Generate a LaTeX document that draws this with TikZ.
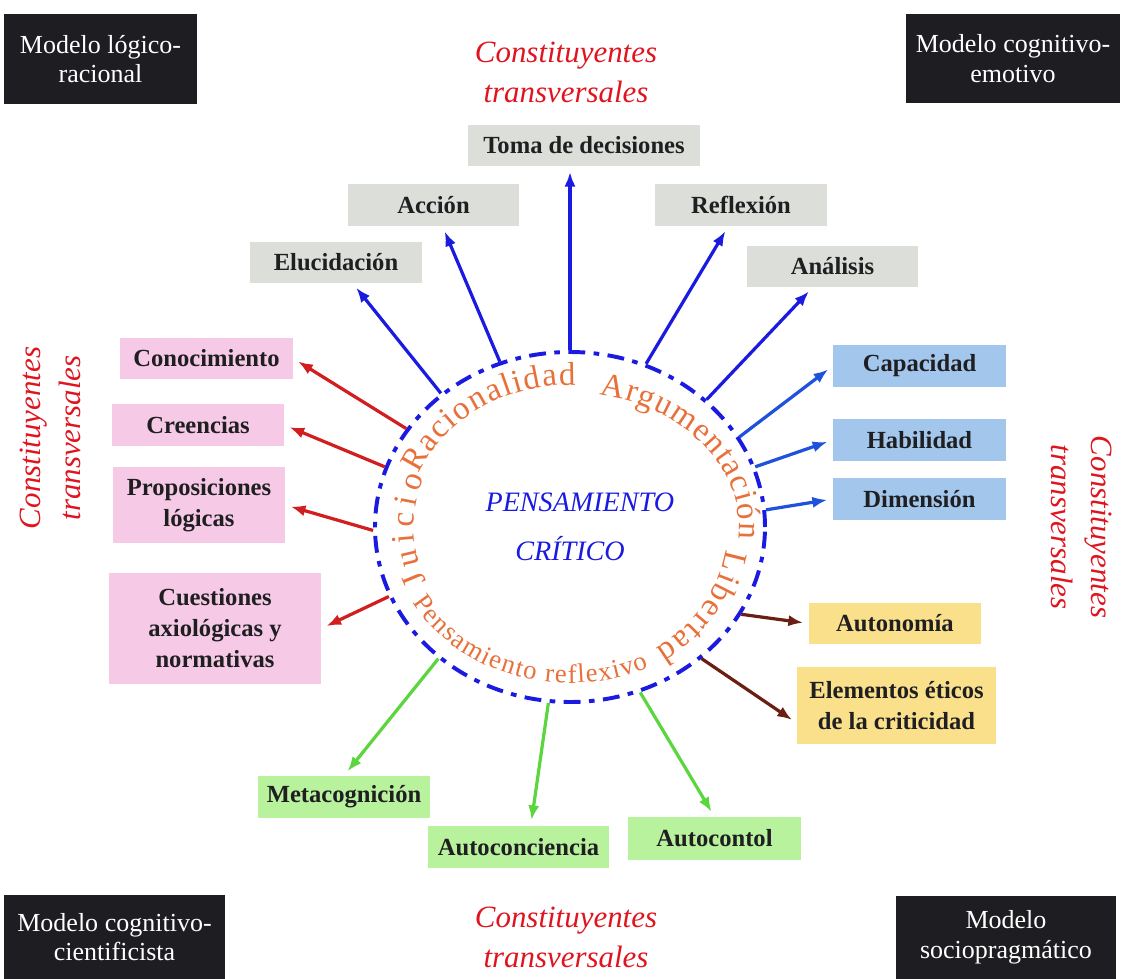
\documentclass[tikz,border=0pt]{standalone}
\usepackage{fontspec}
\setmainfont{Liberation Serif}
\usetikzlibrary{arrows.meta,positioning,shapes.geometric,decorations.text}
\definecolor{Ink}{HTML}{1E1E22}
\definecolor{Texto}{HTML}{1F1F22}
\definecolor{Gris}{HTML}{DCDFD9}
\definecolor{Rosa}{HTML}{F6CAE6}
\definecolor{Celeste}{HTML}{A3C6EC}
\definecolor{Amarillo}{HTML}{FBE08C}
\definecolor{Verde}{HTML}{B9F29C}
\definecolor{Rojo}{HTML}{E0141E}
\definecolor{Naranja}{HTML}{E8703A}
\definecolor{Azul}{HTML}{1A1AE0}
\definecolor{AzulClaro}{HTML}{1E52DC}
\definecolor{Flecha}{HTML}{D21E1E}
\definecolor{Cafe}{HTML}{6B1E12}
\definecolor{Lima}{HTML}{5CD63E}
\newcommand{\pxu}{0.025cm}
\newcommand{\letra}{\fontsize{23.5}{23.5}\selectfont}
\newcommand{\letrab}{\fontsize{19}{19}\selectfont}

\begin{document}
\begin{tikzpicture}[x=0.025cm, y=0.025cm,
    caja/.style n args={3}{fill=#1, minimum width=#2*\pxu, minimum height=#3*\pxu,
      inner sep=0pt, align=center, text=Texto, font=\fontsize{17.5}{22}\selectfont\bfseries},
    modelo/.style 2 args={fill=Ink, text=white, minimum width=#1*\pxu, minimum height=#2*\pxu,
      inner sep=0pt, align=center, font=\fontsize{18.5}{21}\selectfont},
    trans/.style={text=Rojo, align=center, font=\fontsize{22}{28.5}\selectfont\itshape},
    flecha/.style={line width=2.3pt, -{Latex[length=10.5pt,width=8pt]}, shorten >=4pt},
    palabra/.style={decorate, decoration={text along path, text align=fit to path,
      text color=Naranja, text={|\letra|#1}}}]

  \useasboundingbox (0,0) rectangle (1121,-979);

  % modelos en las esquinas
  \node[modelo={193}{90}] (logico) at (100.5,-59) {Modelo lógico-\\racional};
  \node[modelo={214}{89}] (emotivo) at (1013,-58.5) {Modelo cognitivo-\\emotivo};
  \node[modelo={221}{84}] (cientif) at (114.5,-937) {Modelo cognitivo-\\cientificista};
  \node[modelo={220}{83}] (socio) at (1006,-937.5) {Modelo\\sociopragmático};

  % constituyentes transversales
  \node[trans] (tarriba) at (566,-72) {Constituyentes\\transversales};
  \node[trans] (tabajo) at (566,-937) {Constituyentes\\transversales};
  \node[trans, rotate=90] (tizq) at (50,-438) {Constituyentes\\transversales};
  \node[trans, rotate=-90] (tder) at (1082,-527) {Constituyentes\\transversales};

  % centro
  \node[ellipse, draw=Azul, line width=2.8pt, dash pattern=on 12pt off 6pt on 4pt off 6pt,
    minimum width=390*\pxu, minimum height=350*\pxu, inner sep=0pt, align=center,
    text=Azul, font=\fontsize{20}{35}\selectfont\itshape] (pc) at (570,-527) {\hspace*{14pt}PENSAMIENTO\\CRÍTICO};

  \path[palabra=Juicio] (pc.center) ++(203:156 and 140) arc[start angle=203, end angle=159, x radius=156, y radius=140];
  \path[palabra=Racionalidad] (pc.center) ++(158:163 and 142) arc[start angle=158, end angle=88, x radius=163, y radius=142];
  \path[palabra=Argumentación] (pc.center) ++(80:169 and 134) arc[start angle=80, end angle=-5, x radius=169, y radius=134];
  \path[palabra=Libertad] (pc.center) ++(-9:158 and 145) arc[start angle=-9, end angle=-57, x radius=158, y radius=145];
  \path[decorate, decoration={text along path, text align=fit to path, text color=Naranja,
    text={|\letrab|Pensamiento reflexivo}}] (pc.center) ++(209:180 and 156) arc[start angle=209, end angle=296, x radius=180, y radius=156];

  % cajas grises
  \node[caja={Gris}{232}{41}] (toma) at (584,-145.5) {Toma de decisiones};
  \node[caja={Gris}{171}{42}] (accion) at (433.5,-205) {Acción};
  \node[caja={Gris}{172}{41}] (eluc) at (336,-262.5) {Elucidación};
  \node[caja={Gris}{172}{42}] (refl) at (741,-205) {Reflexión};
  \node[caja={Gris}{171}{41}] (anal) at (832.5,-266.5) {Análisis};
  % cajas celestes
  \node[caja={Celeste}{173}{42}] (capa) at (919.5,-366) {Capacidad};
  \node[caja={Celeste}{173}{42}] (habi) at (919.5,-440) {Habilidad};
  \node[caja={Celeste}{173}{42}] (dime) at (919.5,-499) {Dimensión};
  % cajas amarillas
  \node[caja={Amarillo}{172}{41}] (auton) at (895,-623.5) {Autonomía};
  \node[caja={Amarillo}{199}{77}] (elem) at (896.5,-705.5) {Elementos éticos\\de la criticidad};
  % cajas verdes
  \node[caja={Verde}{172}{42}] (meta) at (344,-797) {Metacognición};
  \node[caja={Verde}{181}{42}] (autoc) at (518.5,-847) {Autoconciencia};
  \node[caja={Verde}{173}{43}] (autol) at (714.5,-838.5) {Autocontol};
  % cajas rosas
  \node[caja={Rosa}{173}{41}] (cono) at (206.5,-358.5) {Conocimiento};
  \node[caja={Rosa}{172}{42}] (cree) at (198,-425) {Creencias};
  \node[caja={Rosa}{172}{76}] (prop) at (199,-505) {Proposiciones\\lógicas};
  \node[caja={Rosa}{212}{111}] (cues) at (215,-628.5) {Cuestiones\\axiológicas y\\normativas};

  % flechas
  \draw[flecha, Azul] (pc.134) -- (eluc);
  \draw[flecha, Azul] (pc.113) -- (accion);
  \draw[flecha, Azul] (pc.90) -- (pc.90 |- toma.south);
  \draw[flecha, Azul] (pc.65) -- (refl);
  \draw[flecha, Azul] (pc.43) -- (anal);
  \draw[flecha, AzulClaro] (pc.28) -- (capa.west);
  \draw[flecha, AzulClaro] (pc.18) -- (habi.west);
  \draw[flecha, AzulClaro] (pc.5) -- (dime.west);
  \draw[flecha, Flecha] (pc.149) -- (cono.east);
  \draw[flecha, Flecha] (pc.162) -- (cree.east);
  \draw[flecha, Flecha] (pc.181) -- (prop.east);
  \draw[flecha, Flecha] (pc.201) -- (cues.east);
  \draw[flecha, Cafe] (pc.-27) -- (auton.west);
  \draw[flecha, Cafe] (pc.-45) -- (elem.190);
  \draw[flecha, Lima] (pc.225) -- (meta.north);
  \draw[flecha, Lima] (pc.263) -- (autoc.60);
  \draw[flecha, Lima] (pc.293) -- (autol.north);
\end{tikzpicture}
\end{document}
